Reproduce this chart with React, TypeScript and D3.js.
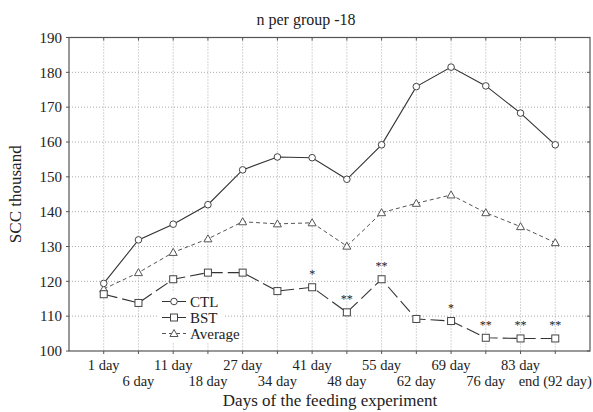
import React from 'react';
import * as d3 from 'd3';

const days = ['1 day', '6 day', '11 day', '18 day', '27 day', '34 day', '41 day', '48 day', '55 day', '62 day', '69 day', '76 day', '83 day', 'end (92 day)'];
const ctl = [119.4, 131.9, 136.4, 142.0, 152.0, 155.7, 155.5, 149.3, 159.2, 175.9, 181.5, 176.1, 168.3, 159.2];
const bst = [116.3, 113.8, 120.6, 122.5, 122.5, 117.2, 118.3, 111.1, 120.6, 109.2, 108.6, 103.8, 103.6, 103.6];
const average = [117.8, 122.5, 128.3, 132.2, 137.1, 136.5, 136.8, 130.1, 139.7, 142.4, 144.8, 139.7, 135.7, 131.1];
const significance = ['', '', '', '', '', '', '*', '**', '**', '', '*', '**', '**', '**'];
const yTicks = [100, 110, 120, 130, 140, 150, 160, 170, 180, 190];

const W = 593;
const H = 412;
const margin = { top: 37.5, right: 3, bottom: 61, left: 69 };
const FONT = '"Liberation Serif", "Times New Roman", serif';

const App = () => {
  const x = d3.scaleLinear().domain([0, days.length + 1]).range([margin.left, W - margin.right]);
  const y = d3.scaleLinear().domain([100, 190]).range([H - margin.bottom, margin.top]);
  const xi = (i: number) => x(i + 1);

  const line = d3.line<number>().x((d, i) => xi(i)).y(d => y(d));
  const plotL = margin.left, plotR = W - margin.right, plotT = margin.top, plotB = H - margin.bottom;

  const circle = (cx: number, cy: number, k: string) => (
    <circle key={k} cx={cx} cy={cy} r={3.3} fill="#fff" stroke="#444" strokeWidth={1} />
  );
  const square = (cx: number, cy: number, k: string) => (
    <rect key={k} x={cx - 3.5} y={cy - 3.5} width={7} height={7} fill="#fff" stroke="#444" strokeWidth={1} />
  );
  const tri = (cx: number, cy: number, k: string) => (
    <path key={k} d={`M${cx},${cy - 4} L${cx + 4},${cy + 3} L${cx - 4},${cy + 3} Z`} fill="#fff" stroke="#555" strokeWidth={1} />
  );

  const legendX = 162;
  const legendY = [301.5, 317.5, 333.5];

  return (
    <svg width={W} height={H} style={{ position: 'absolute', left: 0, top: 0, background: '#fff' }} fontFamily={FONT}>
      <text x={306} y={25} textAnchor="middle" fontSize={16} fill="#222">n per group -18</text>

      {/* grid */}
      {days.map((d, i) => (
        <line key={'gx' + i} x1={xi(i)} x2={xi(i)} y1={plotT} y2={plotB} stroke="#aaa" strokeDasharray="1,2" />
      ))}
      {yTicks.slice(1, -1).map(t => (
        <line key={'gy' + t} x1={plotL} x2={plotR} y1={y(t)} y2={y(t)} stroke="#aaa" strokeDasharray="1,2" />
      ))}

      {/* frame + ticks */}
      <rect x={plotL} y={plotT} width={plotR - plotL} height={plotB - plotT} fill="none" stroke="#555" strokeWidth={1.2} />
      {yTicks.map(t => (
        <g key={'yt' + t}>
          <line x1={plotL - 3} x2={plotL} y1={y(t)} y2={y(t)} stroke="#555" />
          <line x1={plotR - 3} x2={plotR} y1={y(t)} y2={y(t)} stroke="#555" />
          <text x={plotL - 7} y={y(t)} dy="0.35em" textAnchor="end" fontSize={15} fill="#222">{t}</text>
        </g>
      ))}
      {days.map((d, i) => (
        <g key={'xt' + i}>
          <line x1={xi(i)} x2={xi(i)} y1={plotB} y2={plotB + 3} stroke="#555" />
          <line x1={xi(i)} x2={xi(i)} y1={plotT} y2={plotT + 3} stroke="#555" />
          <text x={xi(i)} y={i % 2 === 0 ? 370 : 386} textAnchor="middle" fontSize={14.5} fill="#222">{d}</text>
        </g>
      ))}

      {/* axis titles */}
      <text x={330} y={406} textAnchor="middle" fontSize={17} fill="#222">Days of the feeding experiment</text>
      <text transform={`translate(21,${(plotT + plotB) / 2}) rotate(-90)`} textAnchor="middle" fontSize={17} fill="#222">SCC thousand</text>

      {/* series */}
      <path d={line(average) || ''} fill="none" stroke="#555" strokeWidth={1} strokeDasharray="4,3" />
      <path d={line(bst) || ''} fill="none" stroke="#333" strokeWidth={1.1} strokeDasharray="14,5" />
      <path d={line(ctl) || ''} fill="none" stroke="#333" strokeWidth={1.1} />
      {average.map((v, i) => tri(xi(i), y(v), 'a' + i))}
      {bst.map((v, i) => square(xi(i), y(v), 'b' + i))}
      {ctl.map((v, i) => circle(xi(i), y(v), 'c' + i))}

      {significance.map((s, i) => s && (
        <text key={'s' + i} x={xi(i)} y={y(bst[i]) - 9} textAnchor="middle" fontSize={12} fill="#222">{s}</text>
      ))}

      {/* legend */}
      <rect x={legendX - 3} y={legendY[0] - 9} width={64} height={50} fill="#fff" />
      <line x1={legendX} x2={legendX + 24} y1={legendY[0]} y2={legendY[0]} stroke="#333" />
      {circle(legendX + 12, legendY[0], 'lc')}
      <line x1={legendX} x2={legendX + 24} y1={legendY[1]} y2={legendY[1]} stroke="#333" />
      {square(legendX + 12, legendY[1], 'ls')}
      <line x1={legendX} x2={legendX + 24} y1={legendY[2]} y2={legendY[2]} stroke="#555" strokeDasharray="4,3" />
      {tri(legendX + 12, legendY[2], 'lt')}
      {['CTL', 'BST', 'Average'].map((l, i) => (
        <text key={l} x={legendX + 28} y={legendY[i]} dy="0.35em" fontSize={15} fill="#222">{l}</text>
      ))}
    </svg>
  );
};

export default App;
